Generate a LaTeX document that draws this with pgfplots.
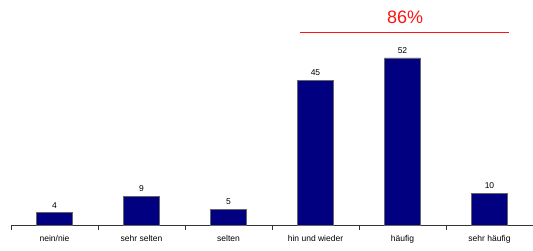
\documentclass[border=0pt]{standalone}
\usepackage{fontspec}
\setmainfont{Liberation Sans}
\usepackage{pgfplots}
\pgfplotsset{compat=1.18}
\definecolor{navy}{RGB}{0,0,128}
\definecolor{redline}{RGB}{255,20,20}
\begin{document}
\begin{tikzpicture}
\useasboundingbox (-11pt,-25.5pt) rectangle (522pt,225.5pt);
\begin{axis}[
  scale only axis,
  width=522pt, height=225.5pt,
  xmin=-0.5, xmax=5.5, ymin=0, ymax=70,
  axis x line*=bottom,
  axis y line=none,
  x axis line style={-, black!80, line width=0.6pt},
  xtick={0,1,2,3,4,5},
  xticklabels={nein/nie, sehr selten, selten, hin und wieder, häufig, sehr häufig},
  major tick length=0pt,
  extra x ticks={-0.5,0.5,1.5,2.5,3.5,4.5},
  extra x tick labels={},
  extra x tick style={major tick length=5pt, tick style={black!80, line width=0.6pt}, tick align=outside},
  tick pos=bottom,
  xticklabel style={font=\fontsize{8.5}{9}\selectfont, yshift=-6pt},
  /pgf/number format/assume math mode=true,
  clip=false,
]
\addplot[ybar, bar width=0.41, fill=navy, draw=black!60, line width=0.5pt,
  nodes near coords, nodes near coords style={font=\fontsize{8.5}{9}\selectfont, black, yshift=1pt}]
  coordinates {(0,4) (1,9) (2,5) (3,45) (4,52) (5,10)};
\addplot[redline, line width=0.8pt, forget plot] coordinates {(2.82,60) (5.22,60)};
\node[text=redline, font=\fontsize{18}{20}\selectfont] at (axis cs:4.03,64.5) {86\%};
\end{axis}
\end{tikzpicture}
\end{document}
